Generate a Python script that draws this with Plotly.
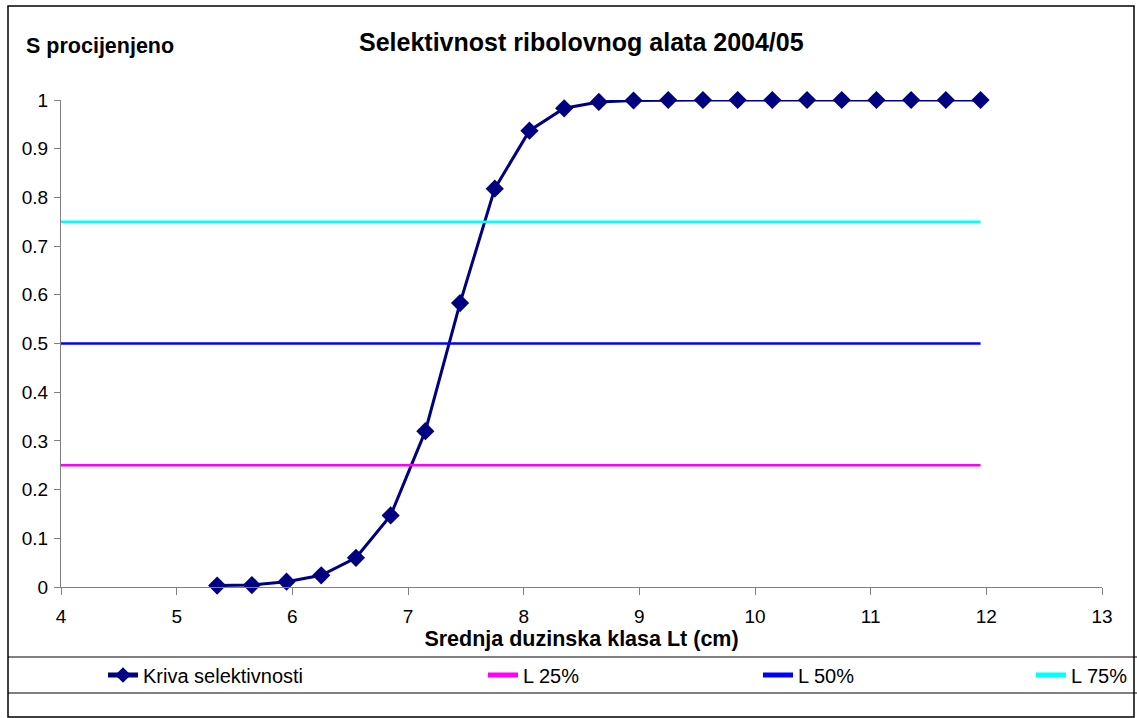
import plotly.graph_objects as go

# Data
lengths = [5.35, 5.65, 5.95, 6.25, 6.55, 6.85, 7.15, 7.45, 7.75, 8.05, 8.35, 8.65,
           8.95, 9.25, 9.55, 9.85, 10.15, 10.45, 10.75, 11.05, 11.35, 11.65, 11.95]
selectivity = [0.003, 0.004, 0.011, 0.024, 0.060, 0.147, 0.320, 0.583, 0.818, 0.937,
               0.983, 0.996, 0.999, 1.0, 1.0, 1.0, 1.0, 1.0, 1.0, 1.0, 1.0, 1.0, 1.0]
ref_x = [4, 11.95]
l25 = [0.25, 0.25]
l50 = [0.5, 0.5]
l75 = [0.75, 0.75]

FONT = "Liberation Sans, Arial, sans-serif"

W, H = 1137, 718
L, R, T, B = 61, 35, 100, 131
pw = W - L - R
ph = H - T - B


def px(pix):
    return (pix - L) / pw


def py(pix):
    return (H - B - pix) / ph


fig = go.Figure()
fig.add_trace(go.Scatter(x=lengths, y=selectivity, mode="lines+markers",
                         name="Kriva selektivnosti", legend="legend",
                         line=dict(color="#000080", width=3),
                         marker=dict(symbol="diamond", size=14, color="#000080"),
                         cliponaxis=False))
fig.add_trace(go.Scatter(x=ref_x, y=l25, mode="lines", name="L 25%", legend="legend2",
                         line=dict(color="#FF00FF", width=2.5)))
fig.add_trace(go.Scatter(x=ref_x, y=l50, mode="lines", name="L 50%", legend="legend3",
                         line=dict(color="#0000FF", width=2.5)))
fig.add_trace(go.Scatter(x=ref_x, y=l75, mode="lines", name="L 75%", legend="legend4",
                         line=dict(color="#00FFFF", width=2.5)))


def leg(xpix):
    return dict(orientation="h", xref="container", yref="container",
                x=xpix / W, xanchor="left", y=1 - 675 / H, yanchor="middle",
                font=dict(size=20, family=FONT), bgcolor="rgba(0,0,0,0)",
                itemsizing="constant")


fig.update_layout(
    width=W, height=H,
    margin=dict(l=L, r=R, t=T, b=B),
    paper_bgcolor="white", plot_bgcolor="white",
    font=dict(family=FONT, size=19, color="black"),
    showlegend=True,
    legend=leg(103),
    legend2=leg(483),
    legend3=leg(758),
    legend4=leg(1031),
    xaxis=dict(range=[4, 13], dtick=1, tick0=4, showgrid=False, zeroline=False,
               showline=True, linecolor="#808080", linewidth=1,
               ticks="outside", ticklen=7, tickcolor="#808080",
               tickfont=dict(size=19), ticklabelstandoff=5,
               title=dict(text="<b>Srednja duzinska klasa Lt (cm)</b>",
                          font=dict(size=21.5), standoff=0)),
    yaxis=dict(range=[0, 1], dtick=0.1, tick0=0, showgrid=False, zeroline=False,
               showline=True, linecolor="#808080", linewidth=1,
               ticks="outside", ticklen=6, tickcolor="#808080",
               tickfont=dict(size=19), ticklabelstandoff=2),
    annotations=[
        dict(text="<b>Selektivnost ribolovnog alata 2004/05</b>", xref="paper", yref="paper",
             x=px(581), y=py(42), xanchor="center", yanchor="middle",
             showarrow=False, font=dict(size=25)),
        dict(text="<b>S procijenjeno</b>", xref="paper", yref="paper",
             x=px(24), y=py(46), xanchor="left", yanchor="middle",
             showarrow=False, font=dict(size=21.5)),
    ],
    shapes=[
        dict(type="rect", xref="paper", yref="paper",
             x0=px(8), x1=px(1134), y0=py(717), y1=py(6),
             line=dict(color="black", width=1.5)),
        dict(type="line", xref="paper", yref="paper",
             x0=px(8), x1=px(1137), y0=py(657), y1=py(657),
             line=dict(color="black", width=1)),
        dict(type="line", xref="paper", yref="paper",
             x0=px(8), x1=px(1137), y0=py(693), y1=py(693),
             line=dict(color="black", width=1)),
    ],
)

fig.write_html("out.html", config={"displayModeBar": False},
               post_script="document.body.style.margin='0px';")
